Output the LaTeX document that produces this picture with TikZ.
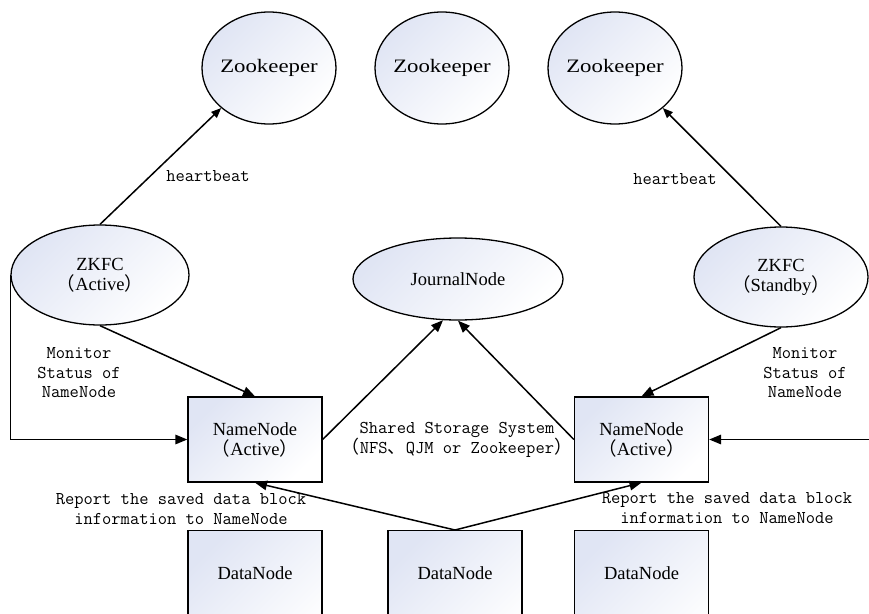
\documentclass[tikz,border=0pt]{standalone}
\usepackage{fontspec}
\setmainfont{Liberation Serif}
\newfontfamily\zkfont{Liberation Serif}[FakeStretch=1.2]
\newfontfamily\cjk{Noto Sans CJK SC}
\usetikzlibrary{shapes.geometric,arrows.meta,calc}
\definecolor{gfill}{RGB}{224,229,244}
\newcommand{\fwlp}{{\cjk （}}
\newcommand{\fwrp}{{\cjk ）}}
\newcommand{\fwcm}{{\cjk 、}}
\tikzset{
  base/.style={draw=black, line width=1.3pt, top color=gfill, bottom color=white, shading angle=45},
  ell/.style={base, ellipse, inner sep=0pt},
  boxn/.style={base, rectangle, inner sep=0pt, minimum width=134pt, minimum height=85pt},
  arr/.style={line width=1.5pt, -{Triangle[length=12pt,width=9.5pt]}},
  arrs/.style={line width=1.5pt, -{Triangle[length=10pt,width=8pt]}},
  mono/.style={font=\ttfamily\fontsize{18}{19.5}\selectfont, align=center, inner sep=0pt},
  txt/.style={font=\fontsize{18.5}{20}\selectfont, align=center},
  zktxt/.style={font=\zkfont\fontsize{19}{20}\selectfont}
}
\begin{document}
\begin{tikzpicture}[x=1pt,y=-1pt]
\useasboundingbox (0,0) rectangle (869,613);
\clip (0,0) rectangle (869,613);
\fill[white] (0,0) rectangle (869,613);

% Zookeepers
\node[ell, minimum width=134pt, minimum height=112pt, zktxt, inner xsep=-4pt] (zk1) at (269,68) {Zookeeper};
\node[ell, minimum width=134pt, minimum height=112pt, zktxt, inner xsep=-4pt] (zk2) at (442,68) {Zookeeper};
\node[ell, minimum width=134pt, minimum height=112pt, zktxt, inner xsep=-4pt] (zk3) at (615,68) {Zookeeper};

% ZKFCs and JournalNode
\node[ell, txt, minimum width=178pt, minimum height=100pt] (zkfcA) at (100,275) {ZKFC\\\fwlp Active\fwrp};
\node[ell, txt, minimum width=174pt, minimum height=100pt] (zkfcS) at (781,277) {ZKFC\\\fwlp Standby\fwrp};
\node[ell, txt, minimum width=210pt, minimum height=82pt] (jn) at (458,279) {JournalNode};

% NameNodes
\node[boxn, txt] (nnA) at (255,439.5) {NameNode\\\fwlp Active\fwrp};
\node[boxn, txt] (nnS) at (641.5,439.5) {NameNode\\\fwlp Active\fwrp};

% DataNodes
\node[boxn, minimum height=130pt, anchor=north] (dn1) at (255,530) {};
\node[boxn, minimum height=130pt, anchor=north] (dn2) at (455,530) {};
\node[boxn, minimum height=130pt, anchor=north] (dn3) at (641.5,530) {};
\node[txt] (dn1t) at ($(dn1.north)+(0,43)$) {DataNode};
\node[txt] (dn2t) at ($(dn2.north)+(0,43)$) {DataNode};
\node[txt] (dn3t) at ($(dn3.north)+(0,43)$) {DataNode};

\coordinate (rin) at (869,439.5);

% connectors
\draw[arrs] (zkfcA.north) -- (zk1.south west);
\draw[arrs] (zkfcS.north) -- (zk3.south east);
\draw[arr] (zkfcA.south) -- (nnA.north);
\draw[arr] (zkfcS.south) -- (nnS.north);
\draw[arr] (zkfcA.west) |- (nnA.west);
\draw[arr] (rin) -- (nnS.east);
\draw[arr] (nnA.east) -- (jn.250);
\draw[arr] (nnS.west) -- (jn.south);
\draw[arr] (dn2.north) -- (nnA.south);
\draw[arr] (dn2.north) -- (nnS.south);

% labels
\node[mono] (hb1) at (208,176) {heartbeat};
\node[mono] (hb2) at (675,179) {heartbeat};
\node[mono] (mon1) at (79,373) {Monitor\\Status of\\NameNode};
\node[mono] (mon2) at (805,373) {Monitor\\Status of\\NameNode};
\node[mono] (sss) at (457,440) {Shared Storage System\\\fwlp NFS\fwcm QJM or Zookeeper\fwrp};
\node[mono] (rep1) at (181,509) {Report the saved data block\\information to NameNode};
\node[mono] (rep2) at (727,508) {Report the saved data block\\information to NameNode};
\end{tikzpicture}
\end{document}
